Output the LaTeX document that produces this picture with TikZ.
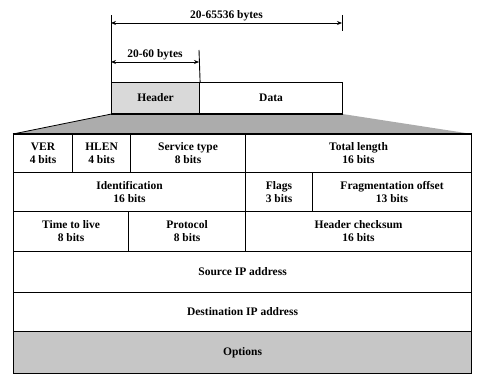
\documentclass[tikz,border=0pt]{standalone}
\usepackage{fontspec}
\setmainfont{Liberation Serif}
\usetikzlibrary{arrows.meta}

\tikzset{
  cell/.style={draw, line width=1.1pt, anchor=north west, align=center, inner sep=0pt,
    font=\bfseries\fontsize{11.5}{13}\selectfont},
  dim/.style={line width=0.9pt},
  dimlabel/.style={font=\bfseries\fontsize{11.5}{12}\selectfont, inner sep=2pt},
}

\begin{document}
\begin{tikzpicture}[x=1pt, y=-1pt, >={Stealth[length=5pt,width=4pt]}]
  \useasboundingbox (0,0) rectangle (484,374);

  % Datagram: header and data
  \node[cell, fill=gray!30, minimum width=88pt, minimum height=31pt] (hdr) at (111,82) {Header};
  \node[cell, minimum width=143pt, minimum height=31pt] (data) at (199,82) {Data};

  % Dimension lines
  \coordinate (allL) at (111,23);
  \coordinate (allR) at (342,23);
  \coordinate (allLtop) at (111,15);
  \coordinate (allRtop) at (342,15);
  \coordinate (allRbot) at (342,31);
  \coordinate (hdrL) at (111,62);
  \coordinate (hdrR) at (199,62);
  \coordinate (hdrRtop) at (199,50);
  \draw[dim] (hdr.north west) -- (allLtop);
  \draw[dim] (allRtop) -- (allRbot);
  \draw[dim] (hdr.north east) -- (hdrRtop);
  \draw[dim, <->] (allL) -- node[dimlabel, above] {20-65536 bytes} (allR);
  \draw[dim, <->] (hdrL) -- node[dimlabel, above] {20-60 bytes} (hdrR);

  % Header fields, row by row
  \node[cell, minimum width=59pt, minimum height=38pt] (ver) at (13,134) {VER\\4 bits};
  \node[cell, minimum width=58pt, minimum height=38pt] (hlen) at (72,134) {HLEN\\4 bits};
  \node[cell, minimum width=115pt, minimum height=38pt] (svc) at (130,134) {Service type\\8 bits};
  \node[cell, minimum width=226pt, minimum height=38pt] (tot) at (245,134) {Total length\\16 bits};

  \node[cell, minimum width=232pt, minimum height=39pt] (ident) at (13,172) {Identification\\16 bits};
  \node[cell, minimum width=67pt, minimum height=39pt] (flags) at (245,172) {Flags\\3 bits};
  \node[cell, minimum width=159pt, minimum height=39pt] (frag) at (312,172) {Fragmentation offset\\13 bits};

  \node[cell, minimum width=115pt, minimum height=40pt] (ttl) at (13,211) {Time to live\\8 bits};
  \node[cell, minimum width=117pt, minimum height=40pt] (proto) at (128,211) {Protocol\\8 bits};
  \node[cell, minimum width=226pt, minimum height=40pt] (chk) at (245,211) {Header checksum\\16 bits};

  \node[cell, minimum width=458pt, minimum height=41pt] (src) at (13,251) {Source IP address};
  \node[cell, minimum width=458pt, minimum height=39pt] (dst) at (13,292) {Destination IP address};
  \node[cell, fill=gray!45, minimum width=458pt, minimum height=42pt] (opt) at (13,331) {Options};

  % Expansion of the header onto the field table
  \fill[gray!65] (hdr.south west) -- (data.south east) -- (tot.north east) -- (ver.north west) -- cycle;
  \draw[line width=0.8pt] (hdr.south west) -- (ver.north west);
  \draw[line width=1.1pt] (hdr.south west) -- (data.south east);
  \draw[line width=1.1pt] (ver.north west) -- (tot.north east);

\end{tikzpicture}
\end{document}
